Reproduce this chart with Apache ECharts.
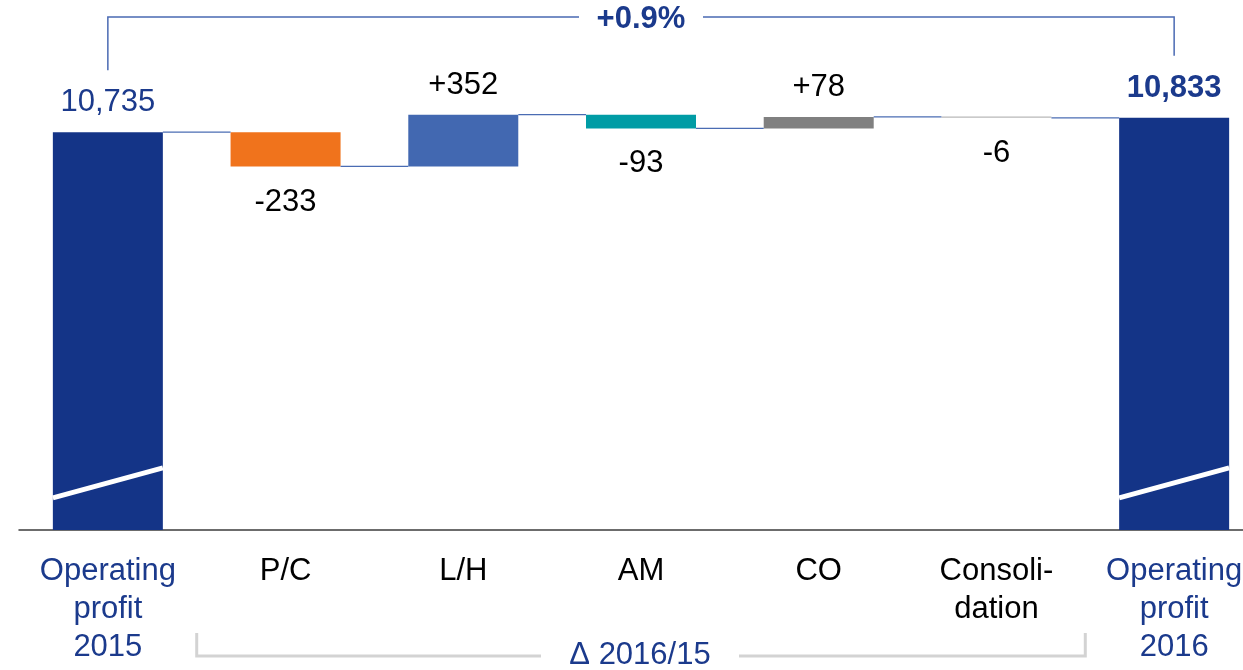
<!DOCTYPE html>
<html>
<head>
<meta charset="utf-8">
<script src="https://cdn.jsdelivr.net/npm/echarts@6/dist/echarts.min.js"></script>
<style>
  html, body { margin: 0; padding: 0; background: #ffffff; overflow: hidden; }
  #chart { width: 1263px; height: 670px; }
</style>
</head>
<body>
<div id="chart"></div>
<script>
// ---- data ----
const categories = ['Operating\nprofit\n2015', 'P/C', 'L/H', 'AM', 'CO', 'Consoli-\ndation', 'Operating\nprofit\n2016'];
const startValue = 10735;
const endValue = 10833;
const deltas = [-233, 352, -93, 78, -6];
const deltaLabels = ['-233', '+352', '-93', '+78', '-6'];
const changeLabel = '+0.9%';
const rangeLabel = 'Δ 2016/15';

// ---- styles ----
const FONT = "'Liberation Sans', Arial, sans-serif";
const NAVY = '#143487';
const TEXT_BLUE = '#1b3a8c';
const deltaColors = ['#f0731c', '#4268b1', '#009ca5', '#808080', '#b8b8b8'];
const BAR_W = 110;
const Y_MIN = 8030, Y_MAX = 11430;
const BREAK_LO = 8248, BREAK_HI = 8452;

// ---- derived waterfall ----
const levels = [startValue];
deltas.forEach(d => levels.push(levels[levels.length - 1] + d));
const baseData = [0];
const valueData = [{
  value: startValue,
  itemStyle: { color: NAVY },
  label: { show: true, position: 'top', distance: 14, formatter: startValue.toLocaleString('en-US'), color: TEXT_BLUE }
}];
deltas.forEach((d, i) => {
  const before = levels[i], after = levels[i + 1];
  baseData.push(Math.min(before, after));
  valueData.push({
    value: Math.abs(d),
    itemStyle: { color: deltaColors[i] },
    label: { show: true, position: d >= 0 ? 'top' : 'bottom', distance: d >= 0 ? 14 : 20, formatter: deltaLabels[i], color: '#000' }
  });
});
baseData.push(0);
valueData.push({
  value: endValue,
  itemStyle: { color: NAVY },
  label: { show: true, position: 'top', distance: 14, formatter: endValue.toLocaleString('en-US'), color: TEXT_BLUE, fontWeight: 'bold' }
});

const catItems = categories.map((c, i) => ({
  value: c,
  textStyle: { color: (i === 0 || i === categories.length - 1) ? TEXT_BLUE : '#000' }
}));

const connectorData = levels.map((v, i) => [i, v]);
const breakData = [[0], [categories.length - 1]];

const chart = echarts.init(document.getElementById('chart'), null, { renderer: 'canvas' });
chart.setOption({
  animation: false,
  grid: { left: 19, top: 30, right: 0, height: 500, containLabel: false },
  xAxis: {
    type: 'category',
    data: catItems,
    axisTick: { show: false },
    axisLine: { lineStyle: { color: '#3c3c3c', width: 1.5 } },
    axisLabel: { interval: 0, margin: 22, fontSize: 31, lineHeight: 38, fontFamily: FONT, color: '#000' }
  },
  yAxis: { type: 'value', min: Y_MIN, max: Y_MAX, show: false, splitLine: { show: false } },
  series: [
    {
      type: 'bar', stack: 'w', barWidth: BAR_W, data: baseData,
      itemStyle: { color: 'rgba(0,0,0,0)' }, silent: true
    },
    {
      type: 'bar', stack: 'w', barWidth: BAR_W, barMinHeight: 1.2, data: valueData,
      label: { fontSize: 31, lineHeight: 31, fontFamily: FONT }
    },
    {
      type: 'custom', data: connectorData, encode: { x: 0, y: 1 }, z: 3,
      renderItem: function (params, api) {
        const p = api.coord([api.value(0), api.value(1)]);
        const bw = api.size([1, 0])[0];
        return {
          type: 'line',
          shape: { x1: p[0] + BAR_W / 2, y1: p[1], x2: p[0] + bw - BAR_W / 2, y2: p[1] },
          style: { stroke: '#4a6cb3', lineWidth: 1.2 }
        };
      }
    },
    {
      type: 'custom', data: breakData, encode: { x: 0 }, z: 5,
      renderItem: function (params, api) {
        const i = api.value(0);
        const a = api.coord([i, BREAK_LO]);
        const b = api.coord([i, BREAK_HI]);
        return {
          type: 'line',
          shape: { x1: a[0] - BAR_W / 2, y1: a[1], x2: b[0] + BAR_W / 2, y2: b[1] },
          style: { stroke: '#ffffff', lineWidth: 5 }
        };
      }
    }
  ]
});

// ---- annotation brackets tied to data positions ----
const last = categories.length - 1;
const pS = chart.convertToPixel({ gridIndex: 0 }, [0, startValue]);
const pE = chart.convertToPixel({ gridIndex: 0 }, [last, endValue]);
const pNext = chart.convertToPixel({ gridIndex: 0 }, [1, startValue]);
const band = pNext[0] - pS[0];
const cx = (pS[0] + pE[0]) / 2;
const topY = 17;
const lineTop = { stroke: '#4a6ab3', lineWidth: 1.5, fill: null };
const lineBot = { stroke: '#d3d3d3', lineWidth: 3, fill: null };
const xa = pS[0] + band / 2, xb = pE[0] - band / 2;
const botY = 656, botTop = 633;
chart.setOption({
  graphic: [
    { type: 'polyline', shape: { points: [[pS[0], pS[1] - 62], [pS[0], topY], [cx - 62, topY]] }, style: lineTop },
    { type: 'polyline', shape: { points: [[cx + 62, topY], [pE[0], topY], [pE[0], pE[1] - 62]] }, style: lineTop },
    { type: 'text', x: cx, y: 19, style: { text: changeLabel, fill: TEXT_BLUE, font: 'bold 31px ' + FONT, align: 'center', verticalAlign: 'middle', textAlign: 'center', textVerticalAlign: 'middle' } },
    { type: 'polyline', shape: { points: [[xa, botTop], [xa, botY], [cx - 100, botY]] }, style: lineBot },
    { type: 'polyline', shape: { points: [[cx + 98, botY], [xb, botY], [xb, botTop]] }, style: lineBot },
    { type: 'text', x: cx - 1, y: 655, style: { text: rangeLabel, fill: TEXT_BLUE, font: '31px ' + FONT, align: 'center', verticalAlign: 'middle', textAlign: 'center', textVerticalAlign: 'middle' } }
  ]
});
</script>
</body>
</html>
